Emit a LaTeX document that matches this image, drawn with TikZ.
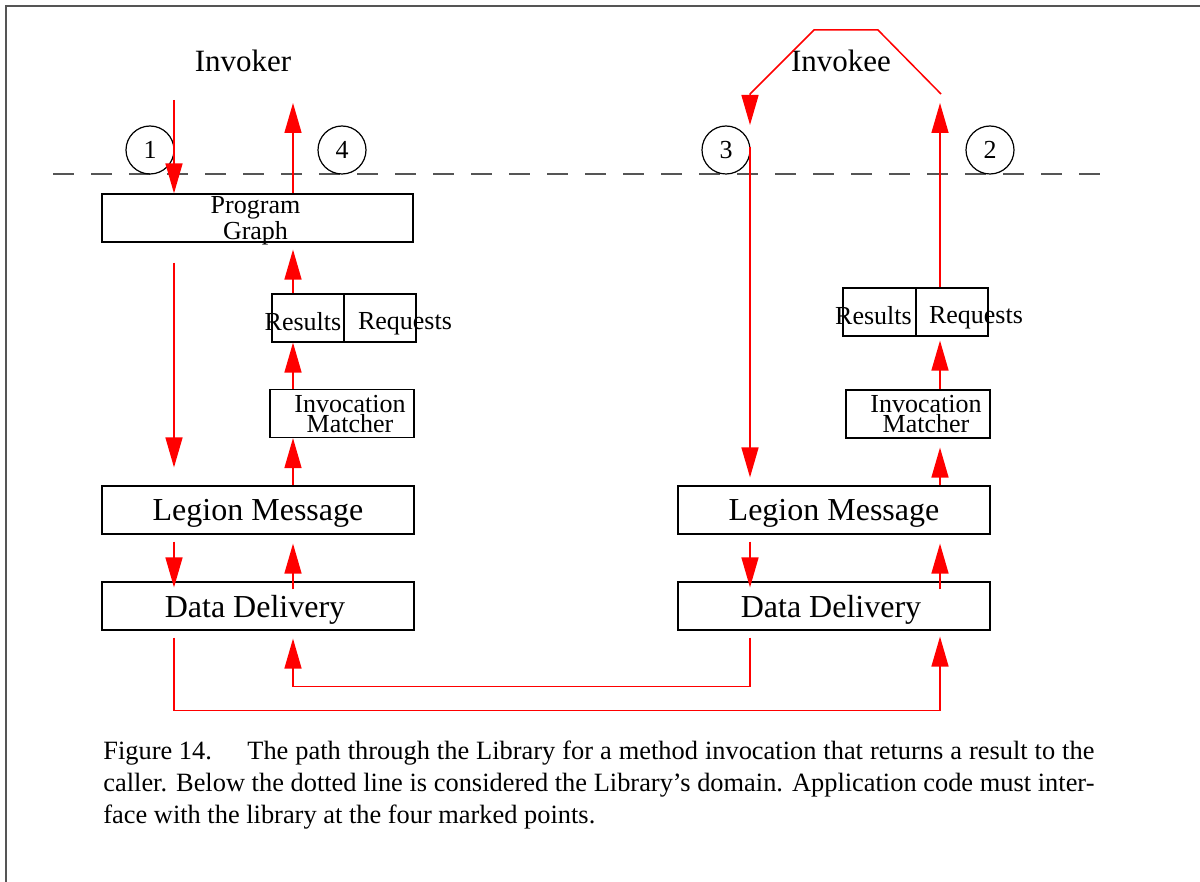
\documentclass[tikz,border=0pt]{standalone}
\usepackage{fontspec}
\setmainfont{Liberation Serif}
\usetikzlibrary{arrows.meta, positioning}

\definecolor{framegray}{HTML}{555555}

\begin{document}
\begin{tikzpicture}[
    x=0.5pt, y=-0.5pt,
    box/.style={rectangle, draw=black, line width=0.6pt, inner sep=0pt},
    bigbox/.style={box, minimum width=156pt, minimum height=24pt, text depth=0pt, font=\fontsize{16}{18}\selectfont},
    smallbox/.style={box, minimum height=24pt},
    lbl/.style={inner sep=0pt, text depth=0pt, align=center, font=\fontsize{13}{10}\selectfont},
    marker/.style={circle, draw=black, line width=0.6pt, minimum size=24pt, inner sep=0pt, font=\fontsize{13}{13}\selectfont},
    side/.style={inner sep=0pt, font=\fontsize{15.5}{18}\selectfont},
    caption/.style={inner sep=0pt, anchor=base west, font=\fontsize{13.2}{16}\selectfont},
    flow/.style={draw=red, line width=0.75pt, -{Triangle[length=15pt, width=8.5pt]}},
    boundary/.style={draw=framegray, line width=1pt, dash pattern=on 10.5pt off 8.5pt}
]
    \useasboundingbox (0,0) rectangle (1200,882);
    \draw[framegray, line width=1pt] (1200,6) -- (6,6) -- (6,882);

    % sides and boundary of the library
    \node[side] (invoker) at (243,61) {Invoker};
    \node[side] (invokee) at (841,61) {Invokee};
    \draw[boundary] (53,174) -- (1110,174);

    \node[marker] (m1) at (150,150) {1};
    \node[marker] (m4) at (342,150) {4};
    \node[marker] (m3) at (726,150) {3};
    \node[marker] (m2) at (990,150) {2};

    % invoker side
    \node[smallbox, minimum width=155.5pt, label={[lbl, font=\fontsize{13}{13}\selectfont, xshift=-1pt]center:Program\\Graph}] (pg) at (257.5,218) {};
    \node[smallbox, minimum width=36pt, label={[lbl, xshift=-2.5pt, yshift=-1.5pt]center:Results}] (res) at (308,318) {};
    \node[smallbox, minimum width=36pt, label={[lbl, xshift=12.5pt, yshift=-1.5pt]center:Requests}] (req) at (380,318) {};
    \node[smallbox, minimum width=72pt, label={[lbl, xshift=4pt]center:Invocation\\Matcher}] (im) at (342,413.5) {};
    \node[bigbox] (lm) at (258,510) {Legion Message};
    \node[bigbox] (dd) at (258,606) {Data Delivery\hspace*{3pt}};

    % invokee side
    \node[smallbox, minimum width=36.5pt, label={[lbl, xshift=-3pt, yshift=-1.5pt]center:Results}] (res2) at (879.5,312) {};
    \node[smallbox, minimum width=36pt, label={[lbl, xshift=12pt, yshift=-1.5pt]center:Requests}] (req2) at (952,312) {};
    \node[smallbox, minimum width=72pt, label={[lbl, xshift=4pt]center:Invocation\\Matcher}] (im2) at (918,414) {};
    \node[bigbox] (lm2) at (834,510) {Legion Message};
    \node[bigbox] (dd2) at (834,606) {Data Delivery\hspace*{3pt}};

    \coordinate (callin) at (174,100);
    \coordinate (callout) at (293,103);
    \coordinate (upin) at (750,147);
    \coordinate (upout) at (940,103);
    \coordinate (hookR) at (941,94);
    \coordinate (hookTR) at (878,30);
    \coordinate (hookTL) at (814,30);
    \coordinate (hookL) at (750,94);
    \coordinate (hookEnd) at (750,125);

    % request path
    \draw[flow] (callin) -- (callin |- pg.north);
    \draw[flow, shorten <=10pt, shorten >=9pt] (pg.south -| callin) -- (callin |- lm.north);
    \draw[flow, shorten <=3.5pt, shorten >=-3pt] (lm.south -| callin) -- (callin |- dd.north);
    \draw[flow, shorten <=3.5pt, shorten >=3pt] (dd.south -| callin) -- ++(0,80) -| (dd2.south -| upout);
    \draw[flow, shorten <=-4pt, shorten >=4.5pt] (dd2.north -| upout) -- (upout |- lm2.south);
    \draw[flow, shorten >=4.5pt] (lm2.north -| upout) -- (upout |- im2.south);
    \draw[flow, shorten >=2pt] (im2.north -| upout) -- (upout |- req2.south);
    \draw[flow] (req2.north -| upout) -- (upout);

    % reply path
    \draw[flow] (hookR) -- (hookTR) -- (hookTL) -- (hookL) -- (hookEnd);
    \draw[flow, shorten >=4pt] (upin) -- (upin |- lm2.north);
    \draw[flow, shorten <=3.5pt, shorten >=-3pt] (lm2.south -| upin) -- (upin |- dd2.north);
    \draw[flow, shorten <=3.5pt, shorten >=4pt] (dd2.south -| upin) -- ++(0,56) -| (dd.south -| callout);
    \draw[flow, shorten <=-4pt, shorten >=4.5pt] (dd.north -| callout) -- (callout |- lm.south);
    \draw[flow] (lm.north -| callout) -- (callout |- im.south);
    \draw[flow] (im.north -| callout) -- (callout |- res.south);
    \draw[flow, shorten >=3.5pt] (res.north -| callout) -- (callout |- pg.south);
    \draw[flow] (pg.north -| callout) -- (callout);

    % caption
    \node[caption] (cap1) at (103,759) {\makebox[495.5pt][s]{\makebox[72pt][l]{Figure 14.}The path through the Library for a method invocation that returns a result to the}};
    \node[caption] (cap2) at (103,791) {\makebox[495.5pt][s]{caller. Below the dotted line is considered the Library's domain. Application code must inter-}};
    \node[caption] (cap3) at (103,823) {face with the library at the four marked points.};
\end{tikzpicture}
\end{document}
